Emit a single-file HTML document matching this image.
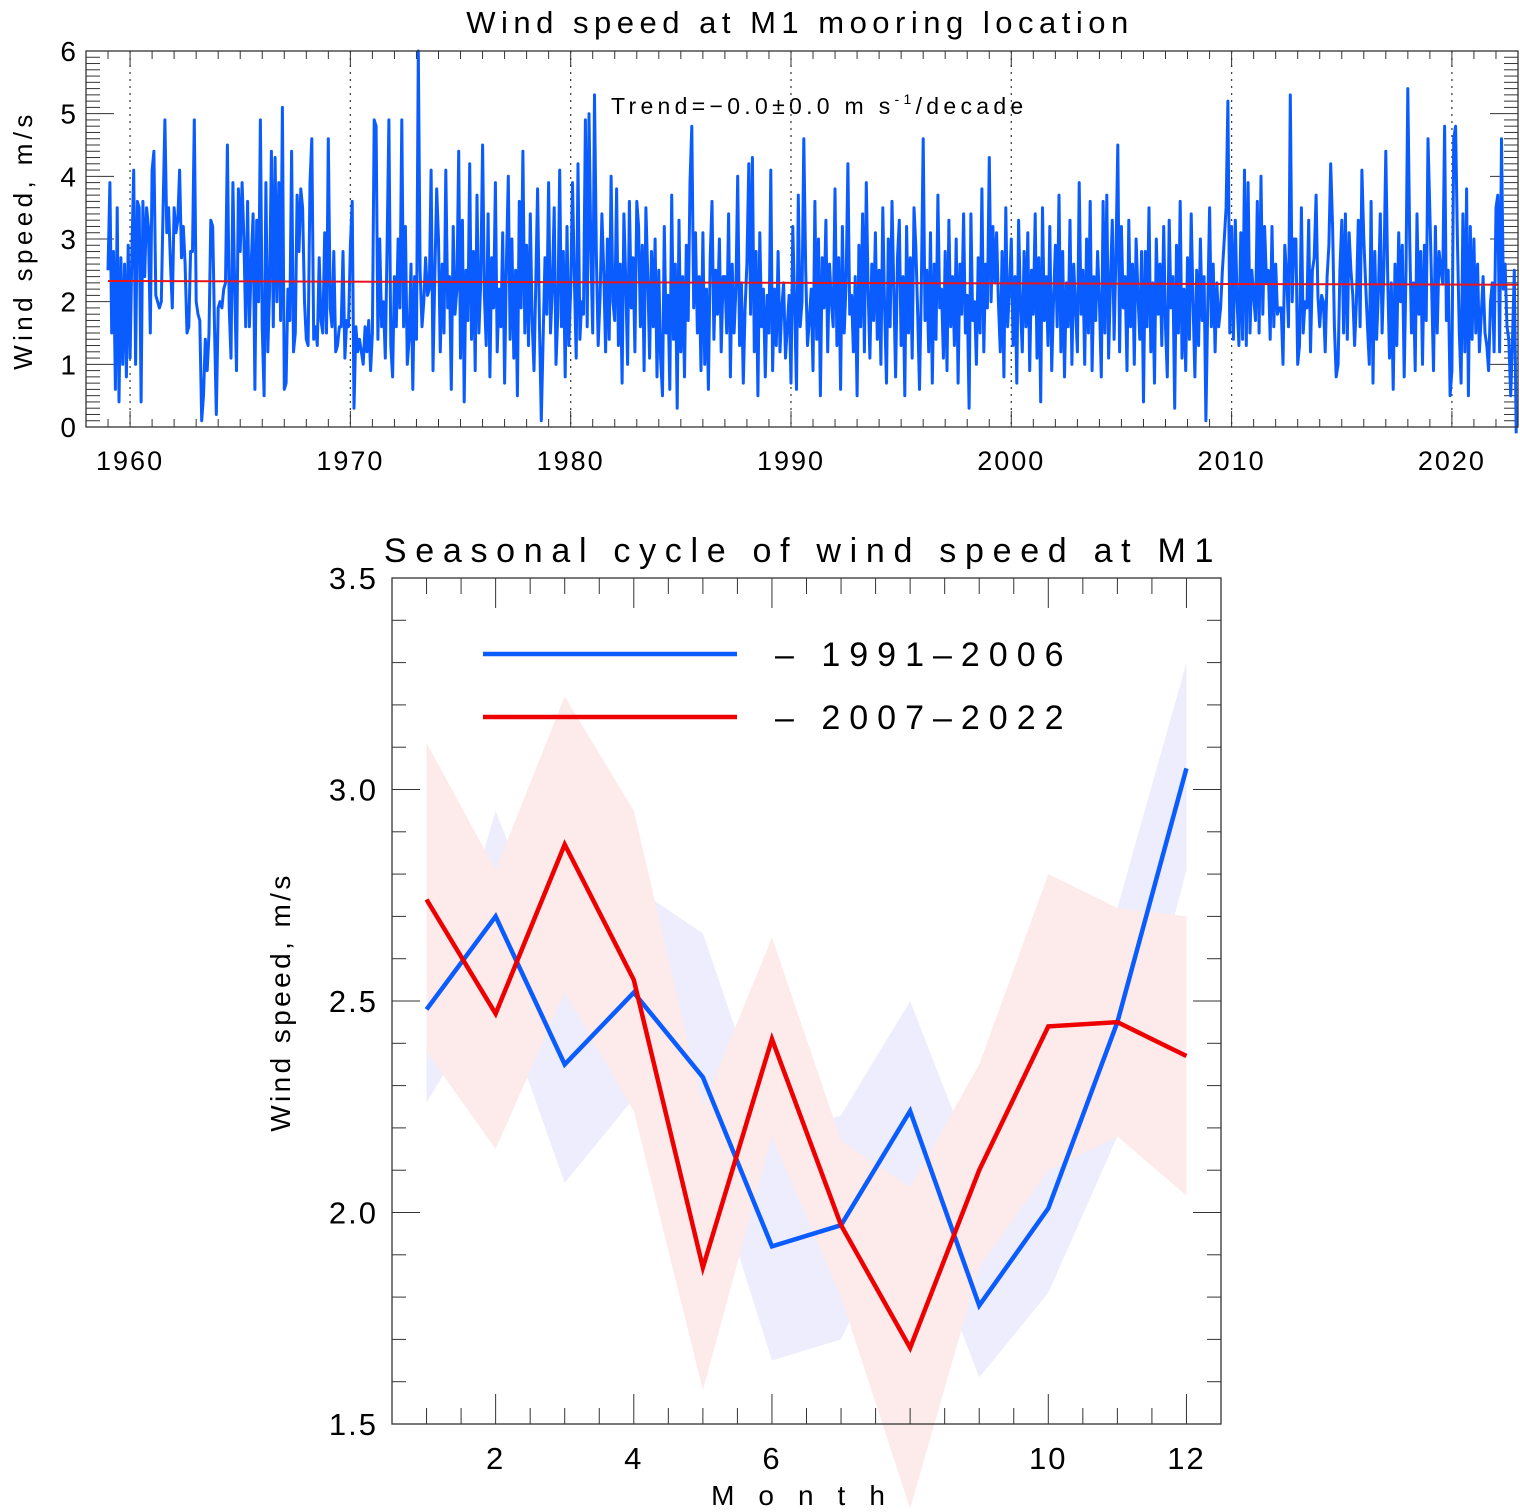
<!DOCTYPE html>
<html><head><meta charset="utf-8">
<style>
html,body{margin:0;padding:0;background:#fff;}
svg{display:block;font-family:"Liberation Sans",sans-serif;}
</style></head>
<body>
<svg id="fig" width="1520" height="1512" viewBox="0 0 1520 1512" xmlns="http://www.w3.org/2000/svg">
<text x="800" y="33" font-size="31" text-anchor="middle" letter-spacing="5.5">Wind speed at M1 mooring location</text>
<text transform="translate(32,240) rotate(-90)" font-size="26" text-anchor="middle" letter-spacing="4.4">Wind speed, m/s</text>
<text x="611" y="114" font-size="23" letter-spacing="4.3">Trend=−0.0±0.0 m s<tspan font-size="14" dy="-10">-1</tspan><tspan dy="10">/decade</tspan></text>
<g id="topchart"></g>
<text x="803" y="562" font-size="34" text-anchor="middle" letter-spacing="8.7">Seasonal cycle of wind speed at M1</text>
<text transform="translate(290,1002) rotate(-90)" font-size="28" text-anchor="middle" letter-spacing="3.4">Wind speed, m/s</text>
<text x="810" y="1505" font-size="28" text-anchor="middle" letter-spacing="24">Month</text>
<g id="botchart"></g>
</svg>
<script>
const years = [1959,1960,1961,1962,1963,1964,1965,1966,1967,1968,1969,1970,1971,1972,1973,1974,1975,1976,1977,1978,1979,1980,1981,1982,1983,1984,1985,1986,1987,1988,1989,1990,1991,1992,1993,1994,1995,1996,1997,1998,1999,2000,2001,2002,2003,2004,2005,2006,2007,2008,2009,2010,2011,2012,2013,2014,2015,2016,2017,2018,2019,2020,2021,2022];
const monthlyWind = [
2.5,3.9,1.5,2.8,0.6,3.5,0.4,2.7,1.0,2.6,0.8,2.9,
1.1,2.8,4.1,1.0,3.6,3.5,0.4,3.6,2.4,3.5,3.2,1.5,
4.1,4.4,2.1,2.0,1.9,2.0,3.5,4.9,3.1,3.5,2.6,1.9,
3.5,3.1,3.3,4.1,2.7,3.2,2.6,1.5,1.6,2.8,2.8,4.9,
2.0,1.8,1.7,0.1,0.5,1.4,0.9,1.5,3.3,3.2,1.6,0.2,
1.9,2.0,1.9,2.2,2.3,4.5,1.9,1.1,3.9,2.2,0.9,3.8,
2.8,3.9,3.0,1.6,3.6,1.6,2.6,3.4,0.6,3.3,2.0,4.9,
1.6,0.5,3.9,1.2,2.2,4.4,1.6,4.3,2.0,3.9,1.7,5.1,
0.6,0.7,2.2,1.7,4.4,1.2,1.5,3.7,2.8,3.8,3.5,2.0,
1.4,1.3,3.9,4.6,1.4,1.6,1.3,2.7,1.7,1.5,3.1,1.5,
4.6,1.9,1.6,2.8,1.2,1.3,1.6,1.6,2.8,1.1,1.7,1.6,
2.9,3.6,0.3,1.6,1.2,1.4,1.2,1.0,1.6,1.2,1.7,0.9,
1.5,4.9,4.8,1.4,3.0,1.6,2.0,1.1,2.9,4.9,1.3,0.8,
2.4,1.6,3.0,1.9,4.9,1.6,3.2,1.0,1.4,2.6,0.6,2.4,
1.4,6.0,2.5,1.6,2.0,2.7,2.1,2.2,4.1,0.9,2.4,3.8,
3.0,1.2,2.6,1.5,4.1,1.9,2.4,0.6,3.2,1.8,2.2,4.4,
1.1,3.3,0.4,2.5,1.7,4.2,1.4,2.8,0.9,3.7,1.5,2.3,
4.5,2.1,1.3,3.4,0.8,2.7,1.9,3.9,1.2,2.2,1.6,3.1,
0.7,2.6,4.0,1.4,3.0,1.1,2.5,0.5,3.6,1.9,4.4,1.5,
2.9,1.3,3.4,1.7,0.9,2.3,3.8,1.6,0.1,1.4,2.7,1.8,
3.9,1.5,2.2,3.5,1.0,1.8,4.1,1.6,2.8,0.8,3.2,1.3,
2.2,3.9,2.4,1.1,4.2,1.4,2.0,1.8,4.9,1.6,5.0,2.8,
1.5,5.3,2.7,1.3,2.1,3.4,2.5,1.2,3.0,1.4,4.0,2.0,
1.7,3.8,1.3,2.6,0.7,3.4,2.3,1.0,3.6,1.9,2.7,1.2,
3.6,3.2,1.6,2.9,0.9,3.5,2.4,1.1,2.8,1.6,3.0,0.8,
2.5,1.1,0.5,3.2,1.5,2.1,0.6,3.7,1.4,2.6,0.3,3.3,
1.2,2.4,0.8,2.9,1.7,3.9,4.8,1.9,3.1,1.5,2.4,0.9,
3.1,1.0,2.2,0.6,2.7,3.6,1.4,2.5,1.8,3.0,1.2,2.4,
2.4,1.5,3.4,0.8,2.6,1.5,2.2,4.0,1.3,2.3,0.7,1.9,
2.6,4.2,1.8,4.3,1.2,2.8,0.5,3.1,1.6,2.2,0.8,2.1,
1.5,4.1,0.9,2.2,1.3,2.8,1.2,1.9,2.3,1.1,1.6,2.1,
0.7,3.2,1.9,0.6,3.7,1.6,2.0,4.6,2.5,1.3,1.7,2.2,
0.9,3.6,1.4,3.0,0.5,2.7,1.9,3.3,1.2,2.6,2.0,1.6,
3.8,1.3,2.7,0.6,3.2,1.5,2.3,4.2,1.8,2.1,1.2,2.4,
0.5,2.9,1.6,3.4,1.2,3.9,2.2,1.1,2.6,1.7,3.1,1.4,
2.5,1.0,3.5,1.9,0.7,3.0,1.6,3.6,2.2,0.8,2.7,3.3,
1.3,2.4,0.5,3.2,1.5,2.7,1.1,3.5,2.9,1.8,0.6,2.2,
4.6,1.7,2.5,1.2,3.1,0.7,2.6,1.4,3.7,1.9,2.2,1.1,
2.8,0.9,3.3,1.6,2.4,1.3,3.0,0.7,2.6,1.8,3.4,1.5,
2.1,0.3,3.4,1.7,2.0,1.0,2.7,1.5,3.8,1.2,2.6,1.9,
4.3,2.0,3.2,2.3,3.1,2.0,1.2,2.8,0.8,3.5,1.6,2.2,
3.0,1.3,2.4,0.7,3.3,1.9,1.2,2.8,1.6,3.1,0.9,2.5,
1.8,3.4,1.1,2.7,0.4,3.5,1.7,2.4,1.3,3.2,0.9,2.0,
2.9,1.6,3.7,1.2,2.8,0.8,2.3,1.6,3.3,1.0,2.6,1.9,
1.2,3.9,1.8,2.5,1.0,3.0,1.5,3.6,0.9,2.4,1.7,2.8,
2.0,0.8,3.6,1.5,3.7,1.1,2.3,3.3,1.4,2.7,4.5,1.2,
3.2,1.9,2.4,0.9,3.3,1.6,2.6,1.0,3.0,2.1,1.4,2.8,
0.4,2.8,1.6,3.5,1.2,2.3,0.7,3.0,1.8,2.6,1.3,3.2,
1.6,0.8,3.3,1.9,2.4,0.3,2.9,1.5,3.6,1.1,2.2,0.9,
2.7,1.4,3.4,2.0,0.8,2.5,1.3,3.0,1.7,2.4,0.1,1.9,
3.5,1.6,2.6,1.2,2.3,1.6,1.9,2.5,3.0,3.5,5.2,1.5,
3.2,1.4,3.3,2.0,1.3,3.1,1.4,4.1,1.3,3.9,1.5,2.5,
2.1,1.7,3.6,1.5,4.0,1.8,3.2,2.3,2.5,1.4,3.2,1.6,
2.6,1.8,1.9,1.9,1.0,2.9,2.4,1.6,5.3,2.0,3.0,3.0,
1.0,1.3,3.5,1.5,2.0,1.9,3.3,1.2,2.5,2.7,3.7,2.1,
1.6,2.1,2.0,1.2,2.4,2.9,4.2,3.2,1.6,0.8,1.0,2.5,
3.3,1.5,3.4,1.4,3.1,2.5,2.1,1.3,2.0,3.3,1.6,4.1,
3.0,2.3,1.6,1.0,3.6,0.7,2.8,1.4,2.2,3.4,1.5,2.6,
4.4,2.4,1.1,2.3,0.6,2.6,1.3,3.1,2.0,2.9,0.8,2.5,
5.4,3.0,1.5,2.3,0.9,3.4,1.8,2.8,1.0,2.9,1.7,4.6,
3.4,2.2,0.9,3.2,1.5,2.8,2.5,2.3,4.8,1.7,2.5,0.5,
0.9,4.6,4.8,3.0,1.5,0.7,3.4,1.2,3.8,0.5,3.2,1.4,
3.0,1.5,2.6,1.2,1.8,2.4,1.5,1.3,0.9,2.0,2.3,1.2,
3.5,3.7,1.2,4.6,2.2,2.6,1.6,1.4,0.5,1.4,2.5,-0.1];
const trendStart = 2.33;
const trendEnd = 2.27;
const topYTicks = [0,1,2,3,4,5,6];
const decadeTicks = [1960,1970,1980,1990,2000,2010,2020];

const months = [1,2,3,4,5,6,7,8,9,10,11,12];
const blueMean = [2.48,2.70,2.35,2.52,2.32,1.92,1.97,2.24,1.78,2.01,2.45,3.05];
const blueUpper = [2.38,2.95,2.52,2.77,2.66,2.18,2.23,2.50,2.08,2.17,2.72,3.30];
const blueLower = [2.26,2.53,2.07,2.27,2.17,1.65,1.70,2.04,1.61,1.81,2.18,2.81];
const redMean = [2.74,2.47,2.87,2.55,1.87,2.41,1.97,1.68,2.10,2.44,2.45,2.37];
const redUpper = [3.11,2.81,3.22,2.95,2.25,2.65,2.17,2.06,2.35,2.80,2.72,2.70];
const redLower = [2.38,2.15,2.52,2.24,1.58,2.18,1.80,1.30,1.87,2.10,2.18,2.04];
const botYTicks = [1.5,2.0,2.5,3.0,3.5];
const botXLabels = [2,4,6,10,12];
const legendLabels = ["– 1991–2006","– 2007–2022"];

const NS="http://www.w3.org/2000/svg";
function mk(parent,tag,attrs){const e=document.createElementNS(NS,tag);for(const k in attrs)e.setAttribute(k,attrs[k]);parent.appendChild(e);return e;}

// ---- top chart ----
const T={l:86,r:1518,t:51,b:427,x0:1958,x1:2023,y0:0,y1:6};
const tx=v=>T.l+(v-T.x0)/(T.x1-T.x0)*(T.r-T.l);
const ty=v=>T.b-(v-T.y0)/(T.y1-T.y0)*(T.b-T.t);
const topG=document.getElementById('topchart');
decadeTicks.forEach(d=>{
  const l=mk(topG,'line',{x1:tx(d),x2:tx(d),y1:T.t,y2:T.b,stroke:'#444','stroke-width':1.3,'stroke-dasharray':'2,5'});
  
  
  const t=mk(topG,'text',{x:tx(d),y:T.b+43,'font-size':27,'text-anchor':'middle','letter-spacing':2});
  t.textContent=d;
  
  
});
for(let y=T.x0;y<=T.x1;y++){
  const len=(y%10===0)?16:8;
  mk(topG,'line',{x1:tx(y),x2:tx(y),y1:T.b,y2:T.b-len,stroke:'#333','stroke-width':1});
  mk(topG,'line',{x1:tx(y),x2:tx(y),y1:T.t,y2:T.t+len,stroke:'#333','stroke-width':1});
}
for(let i=0;i<=60;i++){
  const v=i/10;const major=i%10===0;const len=major?28:14;
  mk(topG,'line',{x1:T.l,x2:T.l+len,y1:ty(v),y2:ty(v),stroke:'#333','stroke-width':1});
  mk(topG,'line',{x1:T.r,x2:T.r-len,y1:ty(v),y2:ty(v),stroke:'#333','stroke-width':1});
}
topYTicks.forEach(v=>{
  const t=mk(topG,'text',{x:T.l-10,y:ty(v)+10,'font-size':28,'text-anchor':'end'});
  t.textContent=v;
  
  
});
const pts=monthlyWind.map((v,i)=>tx(years[0]+i/12).toFixed(1)+','+ty(v).toFixed(1)).join(' ');
const ws=mk(topG,'polyline',{points:pts,fill:'none',stroke:'#0a5cff','stroke-width':3,'stroke-linejoin':'round'});


const tr=mk(topG,'line',{x1:tx(years[0]),x2:tx(years[0]+monthlyWind.length/12),y1:ty(trendStart),y2:ty(trendEnd),stroke:'#e8141c','stroke-width':2});


const fr=mk(topG,'rect',{x:T.l,y:T.t,width:T.r-T.l,height:T.b-T.t,fill:'none',stroke:'#333','stroke-width':1.3});



// ---- bottom chart ----
const B={l:392,r:1221,t:578,b:1424,x0:0.5,x1:12.5,y0:1.5,y1:3.5};
const bx=v=>B.l+(v-B.x0)/(B.x1-B.x0)*(B.r-B.l);
const by=v=>B.b-(v-B.y0)/(B.y1-B.y0)*(B.b-B.t);
const botG=document.getElementById('botchart');
function band(up,lo,color,name){
  const upper=months.map((m,i)=>bx(m)+','+by(up[i]));
  const lower=months.map((m,i)=>bx(m)+','+by(lo[i])).reverse();
  const e=mk(botG,'polygon',{points:upper.concat(lower).join(' '),fill:color});
  
  
}
band(blueUpper,blueLower,'#ededfd','band-1991-2006');
band(redUpper,redLower,'#fdeaea','band-2007-2022');
function line(arr,color,name){
  const p=months.map((m,i)=>bx(m)+','+by(arr[i])).join(' ');
  const e=mk(botG,'polyline',{points:p,fill:'none',stroke:color,'stroke-width':4.5});
  
  
}
line(blueMean,'#0a5cff','line-1991-2006');
line(redMean,'#ee0000','line-2007-2022');
for(let i=0;i<=20;i++){
  const v=1.5+i/10;const major=i%5===0;const len=major?28:14;
  mk(botG,'line',{x1:B.l,x2:B.l+len,y1:by(v),y2:by(v),stroke:'#333','stroke-width':1});
  mk(botG,'line',{x1:B.r,x2:B.r-len,y1:by(v),y2:by(v),stroke:'#333','stroke-width':1});
}
for(let k=2;k<=24;k++){
  const m=k/2;const major=botXLabels.includes(m);const len=major?30:16;
  mk(botG,'line',{x1:bx(m),x2:bx(m),y1:B.b,y2:B.b-len,stroke:'#333','stroke-width':1});
  mk(botG,'line',{x1:bx(m),x2:bx(m),y1:B.t,y2:B.t+len,stroke:'#333','stroke-width':1});
}
botYTicks.forEach(v=>{
  const t=mk(botG,'text',{x:B.l-14,y:by(v)+11,'font-size':31,'text-anchor':'end','letter-spacing':2});
  t.textContent=v.toFixed(1);
  
  
});
botXLabels.forEach(v=>{
  const t=mk(botG,'text',{x:bx(v),y:B.b+45,'font-size':31,'text-anchor':'middle','letter-spacing':2});
  t.textContent=v;
  
  
});
const legColors=['#0a5cff','#ee0000'];
legendLabels.forEach((lab,i)=>{
  const y=654+i*63;
  const l=mk(botG,'line',{x1:483,x2:737,y1:y,y2:y,stroke:legColors[i],'stroke-width':4.5});
  
  
  const t=mk(botG,'text',{x:775,y:y+12,'font-size':34,'letter-spacing':9});
  t.textContent=lab;
  
  
});
const bf=mk(botG,'rect',{x:B.l,y:B.t,width:B.r-B.l,height:B.b-B.t,fill:'none',stroke:'#333','stroke-width':1.3});


</script>
</body></html>
